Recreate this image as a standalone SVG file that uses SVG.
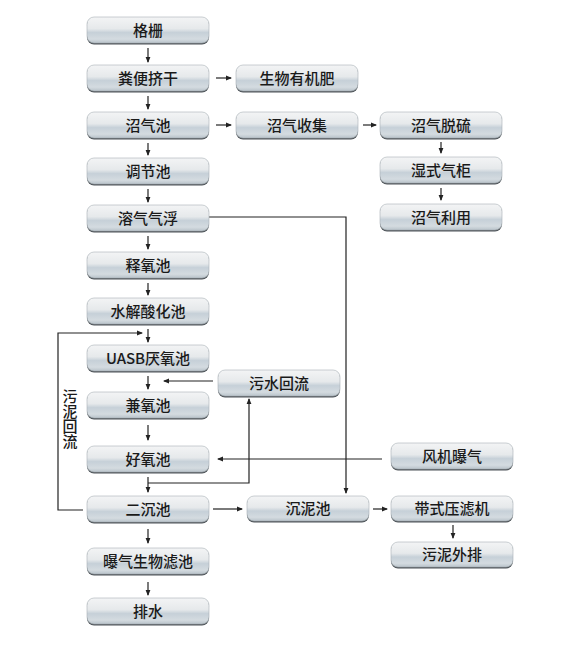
<svg xmlns="http://www.w3.org/2000/svg" width="563" height="652" viewBox="0 0 563 652">
<defs>
<linearGradient id="g" x1="0" y1="0" x2="0" y2="1">
<stop offset="0" stop-color="#f3f4f5"/>
<stop offset="0.45" stop-color="#e6e9eb"/>
<stop offset="0.6" stop-color="#c6d0d8"/>
<stop offset="0.85" stop-color="#d4dbe0"/>
<stop offset="1" stop-color="#b9c3ca"/>
</linearGradient>
<marker id="a" markerWidth="6" markerHeight="6" refX="5" refY="3" orient="auto" markerUnits="userSpaceOnUse">
<path d="M0,0.6 L6,3 L0,5.4 Z" fill="#222"/>
</marker>
</defs>
<style>
.sh{fill:#4d5358}
.box{fill:url(#g);stroke:#a7b0b6;stroke-width:0.6}
.t{font-family:"Noto Sans CJK SC","Noto Sans",sans-serif;font-size:15px;font-weight:500;fill:#1a1a1a;text-anchor:middle}
.v{font-family:"Noto Sans CJK SC","Noto Sans",sans-serif;font-size:15px;font-weight:500;fill:#1a1a1a;writing-mode:vertical-rl;text-orientation:upright}
.c path,.c line,.c polyline{stroke:#222;stroke-width:1.2;fill:none}
</style>
<rect width="563" height="652" fill="#ffffff"/>

<g class="c" id="connectors">
<line x1="148" y1="48" x2="148" y2="62" marker-end="url(#a)"/>
<line x1="148" y1="96" x2="148" y2="109" marker-end="url(#a)"/>
<line x1="148" y1="143" x2="148" y2="155" marker-end="url(#a)"/>
<line x1="148" y1="189" x2="148" y2="202" marker-end="url(#a)"/>
<line x1="148" y1="236" x2="148" y2="249" marker-end="url(#a)"/>
<line x1="148" y1="283" x2="148" y2="295" marker-end="url(#a)"/>
<line x1="148" y1="329" x2="148" y2="342" marker-end="url(#a)"/>
<line x1="148" y1="376" x2="148" y2="389" marker-end="url(#a)"/>
<line x1="148" y1="425" x2="148" y2="440" marker-end="url(#a)"/>
<line x1="148" y1="477" x2="148" y2="492" marker-end="url(#a)"/>
<line x1="148" y1="529" x2="148" y2="543" marker-end="url(#a)"/>
<line x1="148" y1="582" x2="148" y2="595" marker-end="url(#a)"/>
<line x1="216" y1="78" x2="231" y2="78" marker-end="url(#a)"/>
<line x1="216" y1="125" x2="231" y2="125" marker-end="url(#a)"/>
<line x1="363" y1="125" x2="376" y2="125" marker-end="url(#a)"/>
<line x1="441" y1="142" x2="441" y2="153" marker-end="url(#a)"/>
<line x1="441" y1="188" x2="441" y2="200" marker-end="url(#a)"/>
<polyline points="209,217 346,217 346,493" marker-end="url(#a)"/>
<polyline points="83,510 58,510 58,333 142,333" marker-end="url(#a)"/>
<line x1="213" y1="381" x2="164" y2="381" marker-end="url(#a)"/>
<polyline points="148,483 249,483 249,399" marker-end="url(#a)"/>
<line x1="382" y1="459" x2="218" y2="459" marker-end="url(#a)"/>
<line x1="213" y1="509" x2="242" y2="509" marker-end="url(#a)"/>
<line x1="373" y1="509" x2="387" y2="509" marker-end="url(#a)"/>
<line x1="453" y1="525" x2="453" y2="538" marker-end="url(#a)"/>
</g>

<text class="v" x="70" y="389">污泥回流</text>

<g id="n1"><rect class="sh" x="87" y="18.5" width="122" height="26" rx="7"/><rect class="box" x="87" y="17" width="122" height="26" rx="7"/><text class="t" x="148" y="35.5">格栅</text></g>
<g id="n2"><rect class="sh" x="87" y="66.5" width="122" height="26" rx="7"/><rect class="box" x="87" y="65" width="122" height="26" rx="7"/><text class="t" x="148" y="83.5">粪便挤干</text></g>
<g id="n3"><rect class="sh" x="87" y="113.5" width="122" height="26" rx="7"/><rect class="box" x="87" y="112" width="122" height="26" rx="7"/><text class="t" x="148" y="130.5">沼气池</text></g>
<g id="n4"><rect class="sh" x="87" y="159.5" width="122" height="26" rx="7"/><rect class="box" x="87" y="158" width="122" height="26" rx="7"/><text class="t" x="148" y="176.5">调节池</text></g>
<g id="n5"><rect class="sh" x="87" y="206.5" width="122" height="26" rx="7"/><rect class="box" x="87" y="205" width="122" height="26" rx="7"/><text class="t" x="148" y="223.5">溶气气浮</text></g>
<g id="n6"><rect class="sh" x="87" y="253.5" width="122" height="26" rx="7"/><rect class="box" x="87" y="252" width="122" height="26" rx="7"/><text class="t" x="148" y="270.5">释氧池</text></g>
<g id="n7"><rect class="sh" x="87" y="299.5" width="122" height="26" rx="7"/><rect class="box" x="87" y="298" width="122" height="26" rx="7"/><text class="t" x="148" y="316.5">水解酸化池</text></g>
<g id="n8"><rect class="sh" x="87" y="346.5" width="122" height="26" rx="7"/><rect class="box" x="87" y="345" width="122" height="26" rx="7"/><text class="t" x="148" y="363.5">UASB厌氧池</text></g>
<g id="n9"><rect class="sh" x="87" y="393.5" width="122" height="26" rx="7"/><rect class="box" x="87" y="392" width="122" height="26" rx="7"/><text class="t" x="148" y="410.5">兼氧池</text></g>
<g id="n10"><rect class="sh" x="87" y="447.5" width="122" height="26" rx="7"/><rect class="box" x="87" y="446" width="122" height="26" rx="7"/><text class="t" x="148" y="464.5">好氧池</text></g>
<g id="n11"><rect class="sh" x="87" y="497.5" width="122" height="26" rx="7"/><rect class="box" x="87" y="496" width="122" height="26" rx="7"/><text class="t" x="148" y="514.5">二沉池</text></g>
<g id="n12"><rect class="sh" x="87" y="549.5" width="122" height="26" rx="7"/><rect class="box" x="87" y="548" width="122" height="26" rx="7"/><text class="t" x="148" y="566.5">曝气生物滤池</text></g>
<g id="n13"><rect class="sh" x="87" y="599.5" width="122" height="26" rx="7"/><rect class="box" x="87" y="598" width="122" height="26" rx="7"/><text class="t" x="148" y="616.5">排水</text></g>

<g id="n14"><rect class="sh" x="236" y="66.5" width="122" height="26" rx="7"/><rect class="box" x="236" y="65" width="122" height="26" rx="7"/><text class="t" x="297" y="83.5">生物有机肥</text></g>
<g id="n15"><rect class="sh" x="236" y="113.5" width="122" height="26" rx="7"/><rect class="box" x="236" y="112" width="122" height="26" rx="7"/><text class="t" x="297" y="130.5">沼气收集</text></g>
<g id="n16"><rect class="sh" x="380" y="113.5" width="122" height="26" rx="7"/><rect class="box" x="380" y="112" width="122" height="26" rx="7"/><text class="t" x="441" y="130.5">沼气脱硫</text></g>
<g id="n17"><rect class="sh" x="380" y="158.5" width="122" height="26" rx="7"/><rect class="box" x="380" y="157" width="122" height="26" rx="7"/><text class="t" x="441" y="175.5">湿式气柜</text></g>
<g id="n18"><rect class="sh" x="380" y="205.5" width="122" height="26" rx="7"/><rect class="box" x="380" y="204" width="122" height="26" rx="7"/><text class="t" x="441" y="222.5">沼气利用</text></g>
<g id="n19"><rect class="sh" x="218" y="371.5" width="122" height="26" rx="7"/><rect class="box" x="218" y="370" width="122" height="26" rx="7"/><text class="t" x="279" y="388.5">污水回流</text></g>
<g id="n20"><rect class="sh" x="391" y="444.5" width="122" height="26" rx="7"/><rect class="box" x="391" y="443" width="122" height="26" rx="7"/><text class="t" x="452" y="461.5">风机曝气</text></g>
<g id="n21"><rect class="sh" x="247" y="497.5" width="122" height="25" rx="7"/><rect class="box" x="247" y="496" width="122" height="25" rx="7"/><text class="t" x="308" y="514">沉泥池</text></g>
<g id="n22"><rect class="sh" x="391" y="497.5" width="122" height="25" rx="7"/><rect class="box" x="391" y="496" width="122" height="25" rx="7"/><text class="t" x="452" y="514">带式压滤机</text></g>
<g id="n23"><rect class="sh" x="391" y="543.5" width="122" height="25" rx="7"/><rect class="box" x="391" y="542" width="122" height="25" rx="7"/><text class="t" x="452" y="560">污泥外排</text></g>
</svg>
